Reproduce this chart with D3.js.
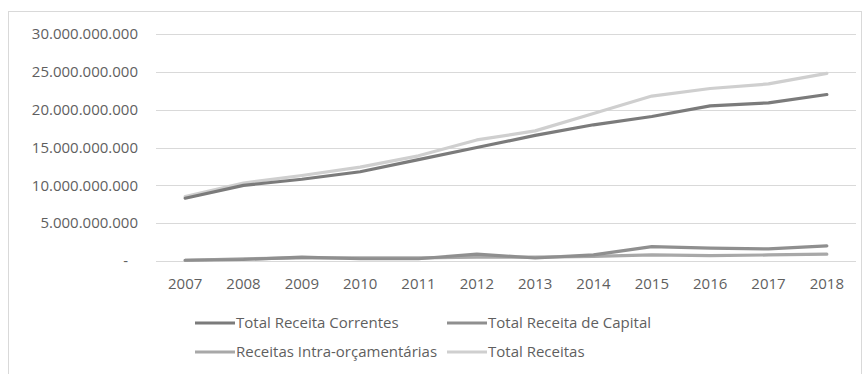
<!DOCTYPE html>
<html>
<head>
<meta charset="utf-8">
<script src="https://cdn.jsdelivr.net/npm/d3@7"></script>
<style>
  html, body { margin: 0; padding: 0; background: #fff; }
  svg { display: block; }
  text { font-family: "Open Sans", "DejaVu Sans", sans-serif; fill: #5f5f5f; }
</style>
</head>
<body>
<svg id="chart" width="867" height="374"></svg>
<script>
// Years on the category axis
const years = ["2007","2008","2009","2010","2011","2012","2013","2014","2015","2016","2017","2018"];

// Revenue series, in reais
const correntes = [8.3e9, 10.0e9, 10.8e9, 11.8e9, 13.4e9, 15.0e9, 16.6e9, 18.0e9, 19.1e9, 20.5e9, 20.9e9, 22.0e9];
const capital   = [0.1e9, 0.2e9, 0.5e9, 0.3e9, 0.3e9, 0.9e9, 0.4e9, 0.8e9, 1.9e9, 1.7e9, 1.6e9, 2.0e9];
const intra     = [0.1e9, 0.3e9, 0.4e9, 0.4e9, 0.4e9, 0.5e9, 0.5e9, 0.6e9, 0.8e9, 0.7e9, 0.8e9, 0.9e9];
const total     = [8.5e9, 10.3e9, 11.3e9, 12.4e9, 13.9e9, 16.0e9, 17.2e9, 19.5e9, 21.8e9, 22.8e9, 23.4e9, 24.8e9];

// Y axis ticks and labels
const yTicks = [0, 5e9, 10e9, 15e9, 20e9, 25e9, 30e9];
const yTickLabels = ["-", "5.000.000.000", "10.000.000.000", "15.000.000.000", "20.000.000.000", "25.000.000.000", "30.000.000.000"];

const seriesNames = ["Total Receita Correntes", "Total Receita de Capital", "Receitas Intra-orçamentárias", "Total Receitas"];
const seriesValues = [correntes, capital, intra, total];
const seriesColors = ["#7b7b7b", "#8f8f8f", "#a8a8a8", "#cfcfcf"];

const FONT = 15;
const TEXT_COLOR = "#5f5f5f";

const svg = d3.select("#chart");

// outer frame
svg.append("rect")
  .attr("x", 8.5).attr("y", 11.5).attr("width", 853).attr("height", 380)
  .attr("fill", "none").attr("stroke", "#d9d9d9").attr("stroke-width", 1);

const plot = { left: 156, right: 856, top: 34, bottom: 261 };

const x = d3.scaleBand().domain(years).range([plot.left, plot.right]);
const y = d3.scaleLinear().domain([0, 30e9]).range([plot.bottom, plot.top]);

// horizontal gridlines
svg.append("g").selectAll("line").data(yTicks).join("line")
  .attr("x1", plot.left).attr("x2", plot.right)
  .attr("y1", d => Math.round(y(d)) + 0.5).attr("y2", d => Math.round(y(d)) + 0.5)
  .attr("stroke", "#d9d9d9").attr("stroke-width", 1.2);

// y axis labels
const yAxis = d3.axisLeft(y).tickValues(yTicks)
  .tickFormat((d, i) => yTickLabels[i]).tickSize(0).tickPadding(0);
const gy = svg.append("g").attr("transform", `translate(138,0)`).call(yAxis);
gy.select(".domain").remove();
gy.selectAll("text").attr("font-size", FONT).style("fill", TEXT_COLOR)
  .style("font-family", '"Open Sans", sans-serif');
gy.selectAll(".tick").filter(d => d === 0).select("text").attr("dx", -10);

// x axis labels
const xAxis = d3.axisBottom(x).tickSize(0).tickPadding(0);
const gx = svg.append("g").attr("transform", `translate(0,278)`).call(xAxis);
gx.select(".domain").remove();
gx.selectAll("text").attr("font-size", FONT).style("fill", TEXT_COLOR)
  .style("font-family", '"Open Sans", sans-serif');

// series lines
const line = d3.line()
  .x((d, i) => x(years[i]) + x.bandwidth() / 2)
  .y(d => y(d));

const drawOrder = [2, 1, 3, 0];
svg.append("g").selectAll("path").data(drawOrder).join("path")
  .attr("d", k => line(seriesValues[k]))
  .attr("fill", "none")
  .attr("stroke", k => seriesColors[k])
  .attr("stroke-width", 3.2)
  .attr("stroke-linejoin", "round")
  .attr("stroke-linecap", "round");

// legend
const legendPos = [[195, 323], [447, 323], [195, 352], [447, 352]];
const lg = svg.append("g").selectAll("g").data(seriesNames).join("g")
  .attr("transform", (d, i) => `translate(${legendPos[i][0]},${legendPos[i][1]})`);
lg.append("line").attr("x1", 0).attr("x2", 40).attr("y1", 0).attr("y2", 0)
  .attr("stroke", (d, i) => seriesColors[i]).attr("stroke-width", 3);
lg.append("text").attr("x", 41).attr("y", 0).attr("dy", "0.35em")
  .attr("font-size", FONT).style("fill", TEXT_COLOR).text(d => d);
</script>
</body>
</html>
